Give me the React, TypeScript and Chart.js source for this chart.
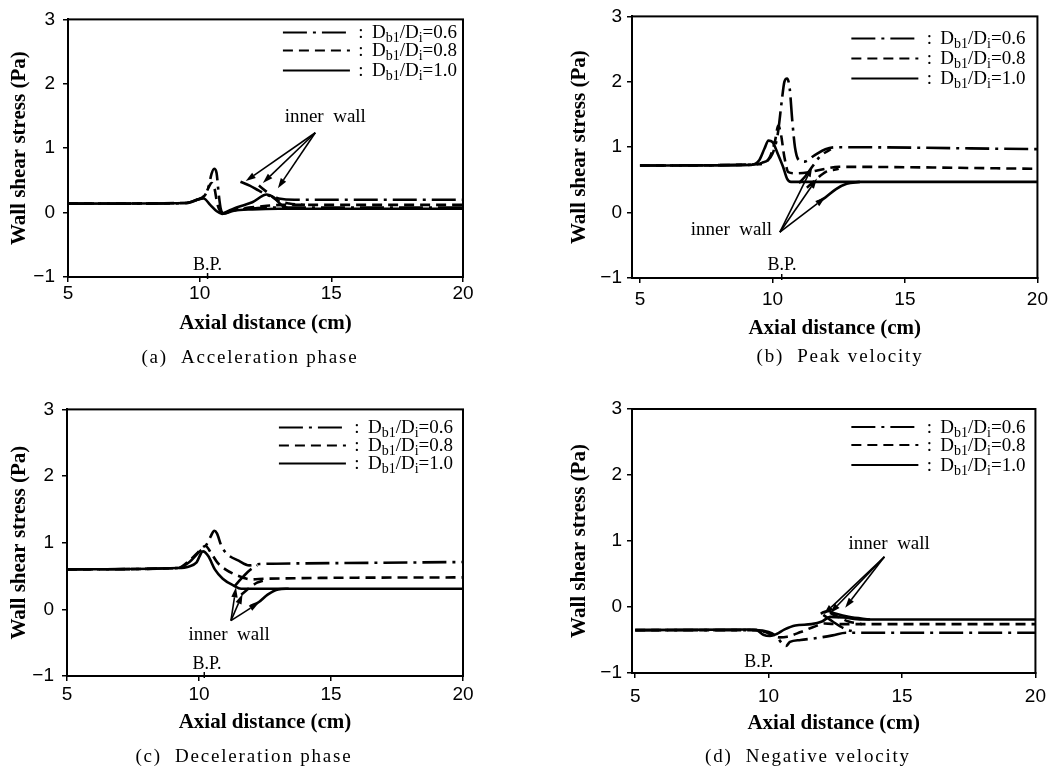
import React, { useEffect, useRef } from 'react';
import { Chart, registerables } from 'chart.js';

Chart.register(...registerables);

type P = [number, number];

const X_TICKS = [5, 10, 15, 20];
const Y_TICKS = [-1, 0, 1, 2, 3];
const RATIOS = ['0.6', '0.8', '1.0'];

// (a) Acceleration phase
const A_R06: P[] = [[5, 0.14], [8, 0.14], [9.5, 0.15], [9.9, 0.2], [10.2, 0.27], [10.35, 0.42], [10.45, 0.6], [10.55, 0.68], [10.64, 0.62], [10.72, 0.3], [10.8, 0.06], [10.9, -0.01], [11.4, 0.04], [12.2, 0.07], [13, 0.08], [20, 0.08]];
const A_R06_IN: P[] = [[11.55, 0.48], [11.9, 0.42], [12.25, 0.34], [12.6, 0.27], [13.0, 0.22], [13.6, 0.2], [20, 0.2]];
const A_R08: P[] = [[5, 0.14], [9.5, 0.15], [9.9, 0.2], [10.2, 0.27], [10.35, 0.4], [10.45, 0.46], [10.55, 0.4], [10.68, 0.12], [10.85, 0.0], [11.4, 0.05], [12.2, 0.09], [13.2, 0.12], [20, 0.12]];
const A_R08_IN: P[] = [[12.25, 0.42], [12.55, 0.32], [12.9, 0.2], [13.4, 0.14], [14, 0.12]];
const A_R10: P[] = [[5, 0.14], [9.5, 0.15], [9.9, 0.2], [10.15, 0.22], [10.4, 0.12], [10.65, 0.02], [10.85, -0.02], [11.3, 0.03], [12, 0.05], [13, 0.06], [20, 0.06]];
const A_R10_IN: P[] = [[10.85, -0.02], [11.4, 0.08], [12.0, 0.16], [12.55, 0.28], [12.8, 0.24], [13.1, 0.12], [13.4, 0.06]];

// (b) Peak velocity
const B_R06: P[] = [[5, 0.72], [9.0, 0.73], [9.6, 0.76], [10.0, 0.9], [10.2, 1.2], [10.35, 1.7], [10.45, 2.0], [10.55, 2.05], [10.65, 1.9], [10.75, 1.4], [10.85, 1.0], [11.0, 0.8], [11.2, 0.78], [11.6, 0.88], [12.0, 0.97], [12.4, 1.0], [20, 0.97]];
const B_R06_IN: P[] = [[11.0, 0.45], [11.25, 0.56], [11.5, 0.7], [11.8, 0.86], [12.2, 0.97]];
const B_R08: P[] = [[5, 0.72], [9.5, 0.74], [9.9, 0.85], [10.1, 1.1], [10.22, 1.33], [10.32, 1.2], [10.45, 0.85], [10.6, 0.62], [10.9, 0.6], [11.4, 0.62], [12.0, 0.67], [12.5, 0.7], [20, 0.67]];
const B_R08_IN: P[] = [[11.3, 0.38], [11.68, 0.52], [12.0, 0.62], [12.5, 0.67]];
const B_R10: P[] = [[5, 0.72], [9.2, 0.73], [9.5, 0.8], [9.7, 0.98], [9.85, 1.1], [10.0, 1.08], [10.2, 0.9], [10.4, 0.7], [10.55, 0.52], [10.7, 0.47], [11.5, 0.47], [20, 0.47]];
const B_R10_IN: P[] = [[11.7, 0.16], [11.99, 0.23], [12.4, 0.36], [12.8, 0.44], [13.3, 0.47]];

// (c) Deceleration phase
const C_R06: P[] = [[5, 0.6], [9.2, 0.62], [9.6, 0.7], [10.0, 0.86], [10.3, 0.98], [10.45, 1.1], [10.58, 1.18], [10.68, 1.14], [10.85, 0.95], [11.1, 0.82], [11.5, 0.73], [11.9, 0.66], [12.3, 0.68], [14, 0.69], [20, 0.71]];
const C_R06_IN: P[] = [[11.35, 0.35], [11.6, 0.46], [11.9, 0.58], [12.2, 0.66]];
const C_R08: P[] = [[5, 0.6], [9.2, 0.62], [9.6, 0.72], [9.95, 0.85], [10.25, 0.95], [10.45, 0.85], [10.7, 0.7], [11.0, 0.6], [11.5, 0.5], [12.0, 0.45], [12.5, 0.46], [20, 0.48]];
const C_R08_IN: P[] = [[11.6, 0.22], [11.9, 0.32], [12.2, 0.4], [12.6, 0.45]];
const C_R10: P[] = [[5, 0.6], [9.2, 0.62], [9.6, 0.64], [9.9, 0.7], [10.15, 0.87], [10.35, 0.8], [10.6, 0.6], [10.9, 0.46], [11.3, 0.36], [11.6, 0.31], [12.5, 0.31], [20, 0.31]];
const C_R10_IN: P[] = [[11.95, 0.05], [12.27, 0.11], [12.6, 0.22], [13.0, 0.3], [13.4, 0.31]];

// (d) Negative velocity
const D_R06: P[] = [[5, -0.35], [9.5, -0.35], [10.0, -0.38], [10.3, -0.45], [10.5, -0.55], [10.65, -0.59], [10.8, -0.53], [11.2, -0.5], [11.8, -0.47], [12.4, -0.43], [12.9, -0.39], [20, -0.39]];
const D_R06_IN: P[] = [[12.05, -0.12], [12.4, -0.22], [12.9, -0.34], [13.3, -0.38]];
const D_R08: P[] = [[5, -0.35], [9.6, -0.35], [10.0, -0.4], [10.4, -0.46], [10.7, -0.45], [11.2, -0.38], [11.7, -0.3], [12.1, -0.25], [12.6, -0.26], [20, -0.26]];
const D_R08_IN: P[] = [[12.3, -0.09], [12.6, -0.15], [13.0, -0.22], [13.5, -0.26]];
const D_R10: P[] = [[5, -0.35], [9.3, -0.34], [9.55, -0.35], [9.8, -0.42], [10.05, -0.44], [10.3, -0.41], [10.6, -0.34], [11.0, -0.28], [11.6, -0.26], [12.0, -0.22], [12.3, -0.15], [12.8, -0.16], [13.5, -0.19], [20, -0.19]];
const D_R10_IN: P[] = [[11.95, -0.1], [12.2, -0.06], [12.5, -0.1], [13.0, -0.15], [13.8, -0.19]];

// annotation anchors (data units): text centre, arrow origin, arrow tips
const A_NOTE: P[] = [[14.77, 1.49], [14.39, 1.24], [11.75, 0.49], [12.4, 0.46], [12.97, 0.38]];
const B_NOTE: P[] = [[8.45, -0.26], [10.28, -0.3], [11.5, 0.7], [11.68, 0.52], [11.99, 0.23]];
const C_NOTE: P[] = [[11.14, -0.39], [11.21, -0.17], [11.4, 0.33], [11.65, 0.23], [12.27, 0.1]];
const D_NOTE: P[] = [[14.52, 0.96], [14.34, 0.76], [12.07, -0.11], [12.31, -0.09], [12.87, -0.01]];
const BP_POS: P[] = [[10.3, -0.82], [10.36, -0.8], [10.3, -0.83], [9.63, -0.83]];
const BP_TICK = [10.3, 10.35, 10.2, NaN];

const CAPTIONS = ['(a)  Acceleration phase', '(b)  Peak velocity', '(c)  Deceleration phase', '(d)  Negative velocity'];

const DASHES = [[24, 6, 3, 6], [10, 6], []];
const SERIF = '"Liberation Serif", "Times New Roman", serif';
const SANS = '"Liberation Sans", Arial, sans-serif';

interface PanelDef {
  idx: number;
  left: number; top: number; width: number; height: number;
  xMin: number;
  yAxisWidth: number; yTitlePad: number; tickPad: number; xAxisHeight: number;
  pad: { top: number; right: number; bottom: number };
  series: P[][][];
  note: P[];
  captionX: number; captionY: number;
  legendMargin: number; legendRows: number[];
}

const PANELS: PanelDef[] = [
  { idx: 0, left: 0, top: 0, width: 530, height: 390, xMin: 5, yAxisWidth: 68, yTitlePad: 7.4, tickPad: 0, xAxisHeight: 59, pad: { top: 12, right: 67, bottom: 54 },
    series: [[A_R06, A_R06_IN], [A_R08, A_R08_IN], [A_R10, A_R10_IN]], note: A_NOTE, captionX: 250, captionY: 358, legendMargin: 6, legendRows: [13, 31, 51] },
  { idx: 1, left: 530, top: 0, width: 523, height: 390, xMin: 4.7, yAxisWidth: 102, yTitlePad: 37.4, tickPad: 5, xAxisHeight: 63, pad: { top: 11, right: 13, bottom: 49 },
    series: [[B_R06, B_R06_IN], [B_R08, B_R08_IN], [B_R10, B_R10_IN]], note: B_NOTE, captionX: 310, captionY: 357, legendMargin: 12, legendRows: [22, 42, 62] },
  { idx: 2, left: 0, top: 390, width: 530, height: 379, xMin: 5, yAxisWidth: 67, yTitlePad: 7.4, tickPad: 2, xAxisHeight: 59, pad: { top: 19, right: 67, bottom: 34 },
    series: [[C_R06, C_R06_IN], [C_R08, C_R08_IN], [C_R10, C_R10_IN]], note: C_NOTE, captionX: 244, captionY: 367, legendMargin: 10, legendRows: [18, 36, 54] },
  { idx: 3, left: 530, top: 390, width: 523, height: 379, xMin: 4.88, yAxisWidth: 102, yTitlePad: 37.4, tickPad: 7, xAxisHeight: 63, pad: { top: 19, right: 13, bottom: 33 },
    series: [[D_R06, D_R06_IN], [D_R08, D_R08_IN], [D_R10, D_R10_IN]], note: D_NOTE, captionX: 278, captionY: 367, legendMargin: 10, legendRows: [18, 36, 56] },
];

const BIG = `19px ${SERIF}`;
const SMALL = `14px ${SERIF}`;

function ratioParts(v: string): [string, string, number][] {
  return [['D', BIG, 0], ['b1', SMALL, 4], ['/D', BIG, 0], ['i', SMALL, 4], ['=' + v, BIG, 0]];
}

function measureRatio(ctx: CanvasRenderingContext2D, v: string) {
  let w = 0;
  for (const [t, f] of ratioParts(v)) { ctx.font = f; w += ctx.measureText(t).width; }
  return w;
}

function drawRatio(ctx: CanvasRenderingContext2D, x: number, base: number, v: string) {
  let cx = x;
  ctx.textAlign = 'left';
  ctx.textBaseline = 'alphabetic';
  for (const [t, f, dy] of ratioParts(v)) {
    ctx.font = f;
    ctx.fillText(t, cx, base + dy);
    cx += ctx.measureText(t).width;
  }
}

function arrow(ctx: CanvasRenderingContext2D, x0: number, y0: number, x1: number, y1: number) {
  const a = Math.atan2(y1 - y0, x1 - x0);
  const L = 10, W = 3.2;
  const bx = x1 - L * Math.cos(a), by = y1 - L * Math.sin(a);
  ctx.beginPath(); ctx.moveTo(x0, y0); ctx.lineTo(bx, by); ctx.stroke();
  ctx.beginPath();
  ctx.moveTo(x1, y1);
  ctx.lineTo(bx + W * Math.sin(a), by - W * Math.cos(a));
  ctx.lineTo(bx - W * Math.sin(a), by + W * Math.cos(a));
  ctx.closePath(); ctx.fill();
}

function makeConfig(def: PanelDef): any {
  const datasets: any[] = [];
  def.series.forEach((branches, i) => branches.forEach(pts => datasets.push({
    data: pts.map(([x, y]) => ({ x, y })),
    borderColor: '#000', borderWidth: 2.6, borderDash: DASHES[i], pointRadius: 0, fill: false,
    cubicInterpolationMode: 'monotone', tension: 0.4, borderCapStyle: 'butt', borderJoinStyle: 'round',
  })));

  const decor = {
    id: 'decor' + def.idx,
    afterDraw(chart: any) {
      const { ctx, chartArea: ca, scales } = chart;
      const px = (v: number) => scales.x.getPixelForValue(v);
      const py = (v: number) => scales.y.getPixelForValue(v);
      ctx.save();
      ctx.strokeStyle = '#000'; ctx.fillStyle = '#000';
      ctx.lineWidth = 2;
      ctx.strokeRect(ca.left, ca.top, ca.right - ca.left, ca.bottom - ca.top);
      const bt = BP_TICK[def.idx];
      if (!isNaN(bt)) {
        ctx.lineWidth = 1.5;
        ctx.beginPath(); ctx.moveTo(px(bt), ca.bottom + 2); ctx.lineTo(px(bt), ca.bottom - 4); ctx.stroke();
      }
      ctx.textAlign = 'center'; ctx.textBaseline = 'middle';
      ctx.font = `18px ${SERIF}`;
      const bp = BP_POS[def.idx];
      ctx.fillText('B.P.', px(bp[0]), py(bp[1]));
      const [txt, from, ...tips] = def.note;
      ctx.font = `19px ${SERIF}`;
      ctx.fillText('inner  wall', px(txt[0]), py(txt[1]));
      ctx.lineWidth = 1.6;
      tips.forEach(t => arrow(ctx, px(from[0]), py(from[1]), px(t[0]), py(t[1])));
      // legend
      def.legendRows.forEach((dy, i) => {
        const yc = ca.top + dy;
        const w = measureRatio(ctx, RATIOS[i]);
        const tx = ca.right - def.legendMargin - w;
        drawRatio(ctx, tx, yc + 6, RATIOS[i]);
        ctx.font = BIG; ctx.textAlign = 'center';
        ctx.fillText(':', tx - 11, yc + 6);
        ctx.lineWidth = 2;
        ctx.setLineDash(DASHES[i]);
        ctx.beginPath(); ctx.moveTo(tx - 89, yc); ctx.lineTo(tx - 22, yc); ctx.stroke();
        ctx.setLineDash([]);
      });
      // caption
      ctx.font = `19px ${SERIF}`;
      (ctx as any).letterSpacing = '1.8px';
      ctx.textAlign = 'center'; ctx.textBaseline = 'middle';
      ctx.fillText(CAPTIONS[def.idx], def.captionX, def.captionY);
      ctx.restore();
    },
  };

  const tickFmt = (v: any) => (Number(v) < 0 ? '\u2212' + Math.abs(Number(v)) : String(v));

  return {
    type: 'line',
    data: { datasets },
    plugins: [decor],
    options: {
      animation: false,
      responsive: false,
      maintainAspectRatio: false,
      layout: { padding: { top: def.pad.top, right: def.pad.right, bottom: def.pad.bottom, left: 0 } },
      plugins: { legend: { display: false }, tooltip: { enabled: false }, title: { display: false } },
      scales: {
        x: {
          type: 'linear', min: def.xMin, max: 20,
          afterBuildTicks: (s: any) => { s.ticks = X_TICKS.map(value => ({ value })); },
          afterFit: (s: any) => { s.height = def.xAxisHeight; },
          grid: { display: true, drawOnChartArea: false, drawTicks: true, tickLength: 5, color: '#000', lineWidth: 1.5 },
          border: { display: true, color: '#000', width: 2 },
          ticks: { color: '#000', font: { family: SANS, size: 19 }, padding: def.tickPad, maxRotation: 0, autoSkip: false, callback: tickFmt },
          title: { display: true, text: 'Axial distance (cm)', color: '#000', font: { family: SERIF, size: 21, weight: 'bold' }, padding: 0 },
        },
        y: {
          type: 'linear', min: -1, max: 3,
          afterBuildTicks: (s: any) => { s.ticks = Y_TICKS.map(value => ({ value })); },
          afterFit: (s: any) => { s.width = def.yAxisWidth; },
          grid: { display: true, drawOnChartArea: false, drawTicks: true, tickLength: 5, color: '#000', lineWidth: 1.5 },
          border: { display: true, color: '#000', width: 2 },
          ticks: { color: '#000', font: { family: SANS, size: 19 }, padding: def.idx % 2 === 0 ? 8 : 5, autoSkip: false, callback: tickFmt },
          title: { display: true, text: 'Wall shear stress (Pa)', color: '#000', font: { family: SERIF, size: 21, weight: 'bold' }, padding: { top: def.yTitlePad, bottom: 0 } },
        },
      },
    },
  };
}

function Panel({ def }: { def: PanelDef }) {
  const ref = useRef<HTMLCanvasElement>(null);
  useEffect(() => {
    const chart = new Chart(ref.current as HTMLCanvasElement, makeConfig(def));
    return () => chart.destroy();
  }, [def]);
  return (
    <canvas
      ref={ref}
      width={def.width}
      height={def.height}
      style={{ position: 'absolute', left: def.left, top: def.top, width: def.width, height: def.height, display: 'block' }}
    />
  );
}

export default function App() {
  return (
    <div style={{ position: 'absolute', left: 0, top: 0, width: 1053, height: 769, background: '#fff', overflow: 'hidden' }}>
      {PANELS.map(p => <Panel key={p.idx} def={p} />)}
    </div>
  );
}
